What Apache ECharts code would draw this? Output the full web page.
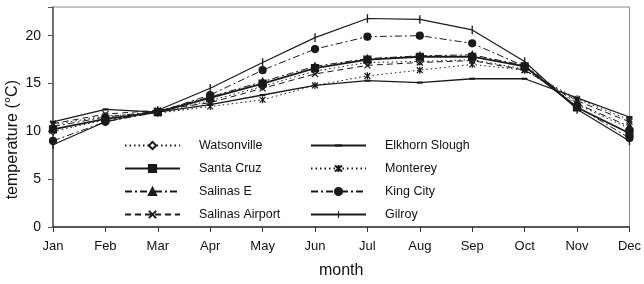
<!DOCTYPE html>
<html>
<head>
<meta charset="utf-8">
<script src="https://cdn.jsdelivr.net/npm/echarts@6/dist/echarts.min.js"></script>
<style>
  html, body { margin: 0; padding: 0; background: #fff; }
  #main { width: 644px; height: 284px; }
</style>
</head>
<body>
<div id="main"></div>
<script>
// data
var months = ['Jan', 'Feb', 'Mar', 'Apr', 'May', 'Jun', 'Jul', 'Aug', 'Sep', 'Oct', 'Nov', 'Dec'];
var yTicks = [0, 5, 10, 15, 20];
var legendLeft = ['Watsonville', 'Santa Cruz', 'Salinas E', 'Salinas Airport'];
var legendRight = ['Elkhorn Slough', 'Monterey', 'King City', 'Gilroy'];
var watsonville    = [10.0, 11.2, 12.0, 13.2, 14.7, 16.3, 17.2, 17.3, 17.5, 16.5, 12.8, 10.3];
var santaCruz      = [10.2, 11.3, 12.0, 13.5, 15.0, 16.6, 17.5, 17.8, 17.8, 16.8, 12.5, 9.8];
var salinasE       = [10.5, 11.5, 12.1, 13.6, 15.2, 16.8, 17.6, 17.9, 18.0, 16.9, 12.9, 10.5];
var salinasAirport = [10.8, 11.8, 12.2, 13.0, 14.5, 16.0, 16.9, 17.2, 17.4, 16.4, 13.2, 11.0];
var elkhornSlough  = [11.0, 12.3, 12.0, 12.8, 13.8, 14.8, 15.3, 15.1, 15.5, 15.5, 13.5, 11.5];
var monterey       = [10.7, 11.6, 11.9, 12.6, 13.3, 14.8, 15.8, 16.4, 17.0, 16.4, 13.4, 11.2];
var kingCity       = [9.0, 11.0, 12.0, 13.8, 16.4, 18.6, 19.9, 20.0, 19.2, 16.8, 12.6, 9.3];
var gilroy         = [8.6, 11.0, 12.2, 14.5, 17.2, 19.8, 21.8, 21.7, 20.6, 17.3, 12.3, 9.0];

var ink = '#1a1a1a';
var font = "'Liberation Sans Narrow', 'Liberation Sans', Arial, sans-serif";

function line(name, data, lineType, width, symbol, size, fill, border) {
  return {
    name: name,
    type: 'line',
    data: data,
    symbol: symbol,
    symbolSize: size,
    symbolKeepAspect: true,
    showAllSymbol: true,
    lineStyle: { color: ink, width: width, type: lineType },
    itemStyle: { color: fill || ink, borderColor: ink, borderWidth: border == null ? 1.2 : border },
    emphasis: { disabled: true }
  };
}

var xPath = 'path://M0,0L10,10M10,0L0,10';
var starPath = 'path://M0,0L10,10M10,0L0,10M5,-1L5,11';
// thin marks padded to a square box so the legend keeps their shape
var tickPath = 'path://M4,0L5.4,0L5.4,9L4,9Z M0,4.5L0,4.5 M9.4,4.5L9.4,4.5';
var dashPath = 'path://M0,3L7,3L7,5.6L0,5.6Z M3.5,0L3.5,0 M3.5,8.6L3.5,8.6';

var series = [
  line('Watsonville', watsonville, [1.5, 3], 1, 'diamond', 7, '#fff'),
  line('Santa Cruz', santaCruz, 'solid', 1.8, 'rect', 7),
  line('Salinas E', salinasE, [7, 3, 2, 3], 1, 'triangle', 7),
  line('Salinas Airport', salinasAirport, [6, 4], 1, xPath, 6),
  line('Elkhorn Slough', elkhornSlough, 'solid', 1.3, dashPath, 7, null, 0),
  line('Monterey', monterey, [1.5, 3], 1, starPath, 7),
  line('King City', kingCity, [7, 3, 2, 3], 1, 'circle', 7),
  line('Gilroy', gilroy, 'solid', 1.2, tickPath, 9, null, 0)
];

function legendAt(names, left) {
  return {
    data: names,
    orient: 'vertical',
    left: left,
    top: 134,
    itemWidth: 55,
    itemHeight: 9,
    itemGap: 10,
    selectedMode: false,
    textStyle: { fontFamily: font, fontSize: 12.5, color: '#111', padding: [0, 0, 0, 14] }
  };
}

var option = {
  animation: false,
  backgroundColor: '#fff',
  grid: { left: 53, right: 5, top: 7, bottom: 55, show: true, borderColor: '#888', borderWidth: 1 },
  legend: [legendAt(legendLeft, 119), legendAt(legendRight, 305)],
  xAxis: {
    type: 'category',
    data: months,
    boundaryGap: false,
    name: 'month',
    nameLocation: 'middle',
    nameGap: 36,
    nameTextStyle: { fontFamily: font, fontSize: 16, color: '#111' },
    axisLine: { lineStyle: { color: '#333', width: 1.5 } },
    axisTick: { length: 5, lineStyle: { color: '#333' } },
    axisLabel: { fontFamily: font, fontSize: 13, color: '#111', margin: 13 },
    splitLine: { show: false }
  },
  yAxis: {
    type: 'value',
    min: 0,
    max: 23,
    interval: 5,
    axisLine: { show: true, lineStyle: { color: '#555', width: 1.5 } },
    axisTick: { show: true, length: 5, lineStyle: { color: '#555' } },
    axisLabel: {
      fontFamily: font, fontSize: 14, color: '#111', margin: 12,
      formatter: function (v) { return yTicks.indexOf(v) >= 0 ? v : ''; }
    },
    splitLine: { show: false }
  },
  graphic: [{
    type: 'text',
    left: 5,
    top: 80,
    rotation: Math.PI / 2,
    style: { text: 'temperature (°C)', font: '16px ' + font, fill: '#111' }
  }],
  series: series
};

var chart = echarts.init(document.getElementById('main'));
chart.setOption(option);
</script>
</body>
</html>
